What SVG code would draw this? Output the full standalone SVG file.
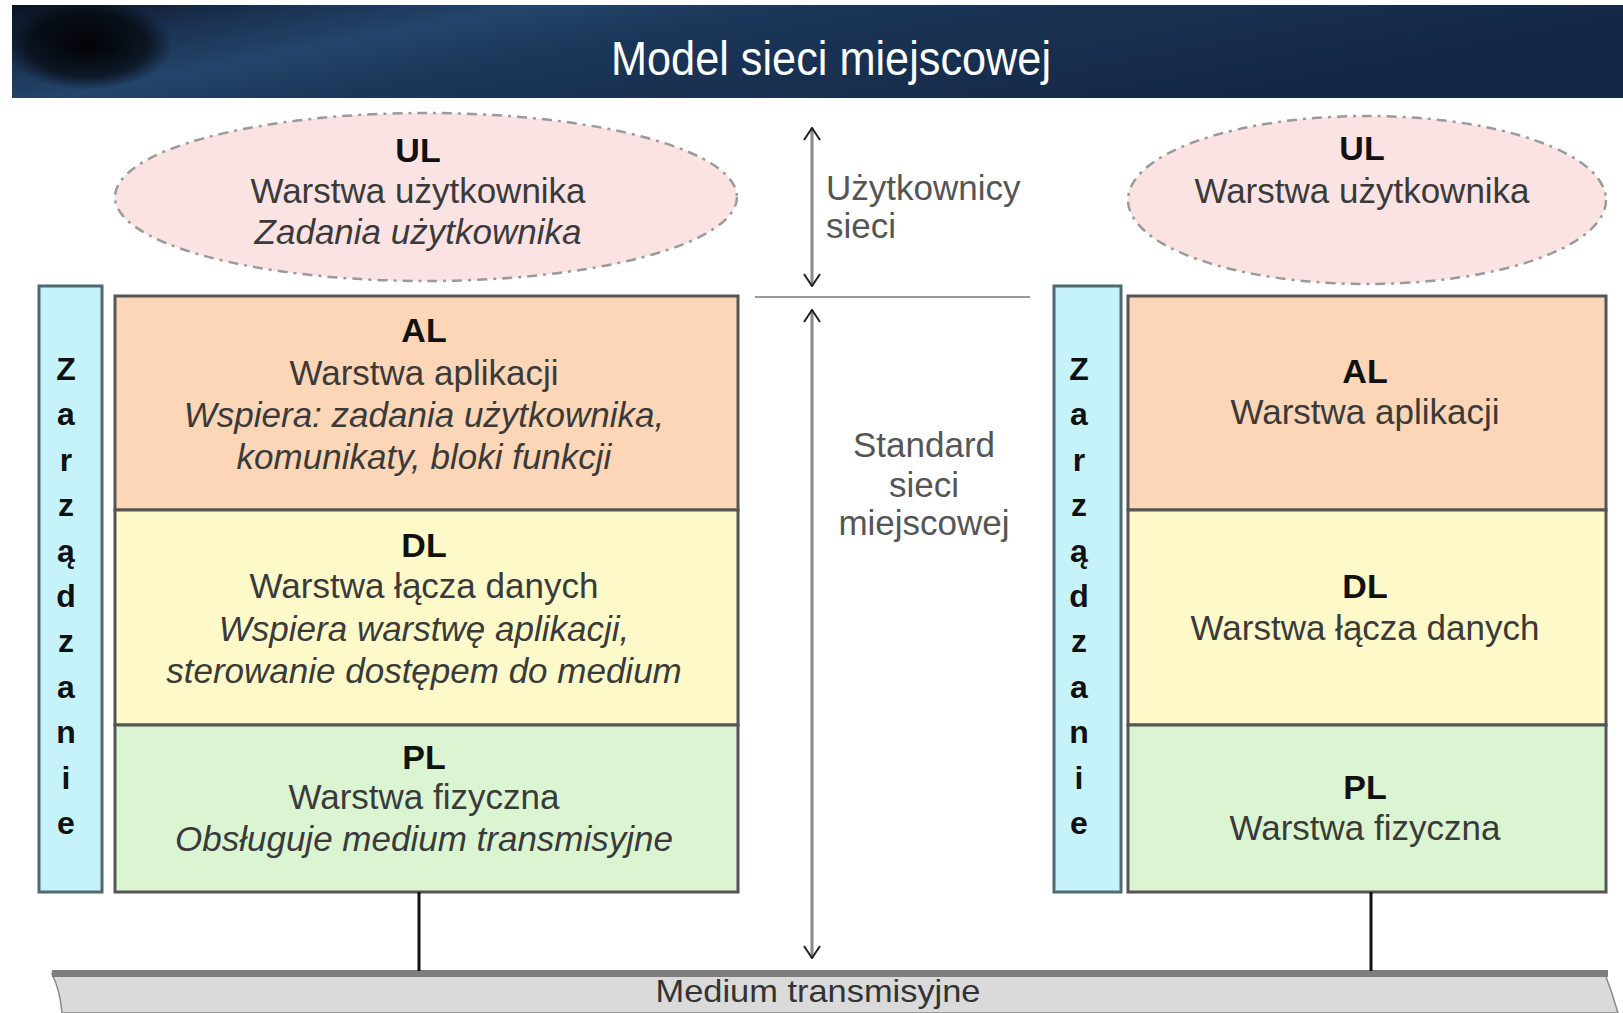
<svg xmlns="http://www.w3.org/2000/svg" width="1623" height="1013" viewBox="0 0 1623 1013">
<defs>
<linearGradient id="ban" x1="0" y1="0" x2="1" y2="0.3">
<stop offset="0" stop-color="#0a1220"/>
<stop offset="0.15" stop-color="#1a3050"/>
<stop offset="0.3" stop-color="#24456b"/>
<stop offset="0.45" stop-color="#1b3658"/>
<stop offset="1" stop-color="#142744"/>
</linearGradient>
<radialGradient id="blob" cx="0.5" cy="0.5" r="0.5">
<stop offset="0" stop-color="#000" stop-opacity="0.95"/>
<stop offset="0.7" stop-color="#000" stop-opacity="0.6"/>
<stop offset="1" stop-color="#000" stop-opacity="0"/>
</radialGradient>
<clipPath id="banclip"><rect x="12" y="5" width="1611" height="93"/></clipPath>
<marker id="chev" viewBox="0 0 14 18" refX="13" refY="9" markerWidth="14" markerHeight="18" markerUnits="userSpaceOnUse" orient="auto-start-reverse">
<path d="M1,1 L13,9 L1,17" fill="none" stroke="#222" stroke-width="2"/>
</marker>
</defs>
<style>
.t{font-family:"Liberation Sans",Arial,sans-serif;text-anchor:middle;}
.b{font-weight:bold;fill:#111;font-size:34px;}
.n{fill:#3a3a3a;font-size:35px;}
.i{fill:#3a3a3a;font-size:35px;font-style:italic;}
.g{fill:#555;font-size:35px;}
.ell{fill:#fce3e3;stroke:#9a9a9a;stroke-width:2.5;stroke-dasharray:10 6 3 6;}
.bar{fill:#c6f3fa;stroke:#4e6a70;stroke-width:3;}
.lay{stroke:#555;stroke-width:3;}
.zl{font-family:"Liberation Sans",Arial,sans-serif;font-weight:bold;font-size:32px;fill:#111;text-anchor:middle;}
.con{stroke:#111;stroke-width:3;fill:none;}
</style>
<rect x="0" y="0" width="1623" height="1013" fill="#ffffff"/>
<g id="banner">
<rect x="12" y="5" width="1611" height="93" fill="url(#ban)"/>
<ellipse cx="88" cy="45" rx="85" ry="45" fill="url(#blob)" clip-path="url(#banclip)"/>
<text x="831" y="75" font-family="Liberation Sans,Arial,sans-serif" font-size="48" fill="#ffffff" text-anchor="middle" textLength="440" lengthAdjust="spacingAndGlyphs">Model sieci miejscowej</text>
</g>
<g id="ul-left">
<ellipse class="ell" cx="426" cy="197" rx="311" ry="84"/>
<text class="t b" x="418" y="162">UL</text>
<text class="t n" x="418" y="203">Warstwa użytkownika</text>
<text class="t i" x="418" y="244">Zadania użytkownika</text>
</g>
<g id="ul-right">
<ellipse class="ell" cx="1367" cy="200" rx="239" ry="84"/>
<text class="t b" x="1362" y="160">UL</text>
<text class="t n" x="1362" y="203">Warstwa użytkownika</text>
</g>
<g id="mgmt-left">
<rect class="bar" x="39" y="286" width="63" height="606"/>
<text class="zl" x="66" y="380">Z</text>
<text class="zl" x="66" y="425">a</text>
<text class="zl" x="66" y="471">r</text>
<text class="zl" x="66" y="516">z</text>
<text class="zl" x="66" y="562">ą</text>
<text class="zl" x="66" y="607">d</text>
<text class="zl" x="66" y="652">z</text>
<text class="zl" x="66" y="698">a</text>
<text class="zl" x="66" y="743">n</text>
<text class="zl" x="66" y="789">i</text>
<text class="zl" x="66" y="834">e</text>
</g>
<g id="stack-left">
<rect class="lay" x="115" y="296" width="623" height="214" fill="#fcd6b6"/>
<rect class="lay" x="115" y="510" width="623" height="215" fill="#fdf9c9"/>
<rect class="lay" x="115" y="725" width="623" height="167" fill="#dbf5d3"/>
<text class="t b" x="424" y="342">AL</text>
<text class="t n" x="424" y="385">Warstwa aplikacji</text>
<text class="t i" x="424" y="427">Wspiera: zadania użytkownika,</text>
<text class="t i" x="424" y="469">komunikaty, bloki funkcji</text>
<text class="t b" x="424" y="557">DL</text>
<text class="t n" x="424" y="598">Warstwa łącza danych</text>
<text class="t i" x="424" y="641">Wspiera warstwę aplikacji,</text>
<text class="t i" x="424" y="683">sterowanie dostępem do medium</text>
<text class="t b" x="424" y="769">PL</text>
<text class="t n" x="424" y="809">Warstwa fizyczna</text>
<text class="t i" x="424" y="851">Obsługuje medium transmisyjne</text>
</g>
<g id="mgmt-right">
<rect class="bar" x="1054" y="286" width="67" height="606"/>
<text class="zl" x="1079" y="380">Z</text>
<text class="zl" x="1079" y="425">a</text>
<text class="zl" x="1079" y="471">r</text>
<text class="zl" x="1079" y="516">z</text>
<text class="zl" x="1079" y="562">ą</text>
<text class="zl" x="1079" y="607">d</text>
<text class="zl" x="1079" y="652">z</text>
<text class="zl" x="1079" y="698">a</text>
<text class="zl" x="1079" y="743">n</text>
<text class="zl" x="1079" y="789">i</text>
<text class="zl" x="1079" y="834">e</text>
</g>
<g id="stack-right">
<rect class="lay" x="1128" y="296" width="478" height="214" fill="#fcd6b6"/>
<rect class="lay" x="1128" y="510" width="478" height="215" fill="#fdf9c9"/>
<rect class="lay" x="1128" y="725" width="478" height="167" fill="#dbf5d3"/>
<text class="t b" x="1365" y="383">AL</text>
<text class="t n" x="1365" y="424">Warstwa aplikacji</text>
<text class="t b" x="1365" y="598">DL</text>
<text class="t n" x="1365" y="640">Warstwa łącza danych</text>
<text class="t b" x="1365" y="799">PL</text>
<text class="t n" x="1365" y="840">Warstwa fizyczna</text>
</g>
<g id="scale">
<text class="t g" x="826" y="200" style="text-anchor:start">Użytkownicy</text>
<text class="t g" x="826" y="238" style="text-anchor:start">sieci</text>
<text class="t g" x="924" y="457">Standard</text>
<text class="t g" x="924" y="497">sieci</text>
<text class="t g" x="924" y="535">miejscowej</text>
</g>
<g id="medium">
<path d="M52,974 L1605,974 Q1612,992 1618,1013 L62,1013 Q60,990 52,974 Z" fill="#dadada" stroke="#888" stroke-width="1.5"/>
<rect x="52" y="970" width="1556" height="7" fill="#7d7d7d"/>
<text x="818" y="1002" font-family="Liberation Sans,Arial,sans-serif" font-size="32" fill="#333" text-anchor="middle" textLength="325" lengthAdjust="spacingAndGlyphs">Medium transmisyjne</text>
</g>
<g id="connectors">
<line x1="755" y1="297" x2="1030" y2="297" stroke="#999" stroke-width="2"/>
<line x1="812" y1="128" x2="812" y2="286" stroke="#888" stroke-width="3" marker-start="url(#chev)" marker-end="url(#chev)"/>
<line x1="812" y1="310" x2="812" y2="958" stroke="#888" stroke-width="3" marker-start="url(#chev)" marker-end="url(#chev)"/>
<line class="con" x1="419" y1="892" x2="419" y2="971"/>
<line class="con" x1="1371" y1="892" x2="1371" y2="971"/>
</g>
</svg>
